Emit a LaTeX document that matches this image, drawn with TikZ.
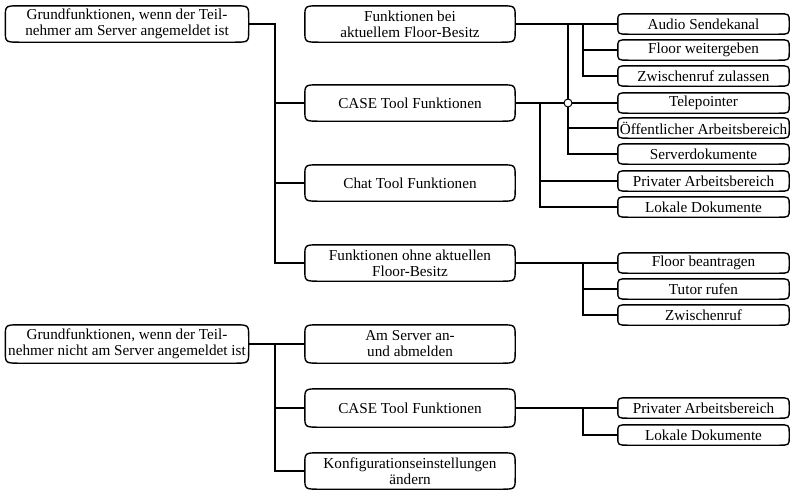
\documentclass[tikz,border=0pt]{standalone}
\usepackage{fontspec}
\setmainfont{Liberation Serif}
% outline with flattened round corners: #1 node, #2 corner width, #3 corner height
\newcommand\roundframe[3]{%
  \draw[frame] ([xshift=#2]#1.north west) -- ([xshift=-#2]#1.north east)
    .. controls (#1.north east) .. ([yshift=-#3]#1.north east)
    -- ([yshift=#3]#1.south east)
    .. controls (#1.south east) .. ([xshift=-#2]#1.south east)
    -- ([xshift=#2]#1.south west)
    .. controls (#1.south west) .. ([yshift=#3]#1.south west)
    -- ([yshift=-#3]#1.north west)
    .. controls (#1.north west) .. cycle;}
\begin{document}
\begin{tikzpicture}[x=1pt,y=-1pt,
  lbl/.style={inner sep=0pt, align=center, font=\fontsize{15.2}{16}\selectfont},
  rootbox/.style={lbl, minimum width=243pt, minimum height=36pt},
  midbox/.style={lbl, minimum width=210pt, minimum height=36pt},
  leafbox/.style={lbl, minimum width=171pt, minimum height=20pt},
  wire/.style={line width=1.2pt, line cap=rect},
  frame/.style={line width=1.4pt},
  hubdot/.style={circle, draw, line width=1pt, fill=white, inner sep=0pt, minimum size=8pt}]
\useasboundingbox (0,0) rectangle (792,490);

% ---------- first tree: logged in ----------
\node[rootbox] (r1) at (127,24) {Grundfunktionen, wenn der Teil-\\nehmer am Server angemeldet ist};
\node[midbox] (f1) at (410,24) {Funktionen bei\\aktuellem Floor-Besitz};
\node[midbox] (c1) at (410,103) {CASE Tool Funktionen};
\node[midbox] (ch) at (410,183) {Chat Tool Funktionen};
\node[midbox] (o1) at (410,263) {Funktionen ohne aktuellen\\Floor-Besitz};

\node[leafbox] (audio)  at (703.5,24)  {Audio Sendekanal};
\node[leafbox] (floorw) at (703.5,50)  {Floor weitergeben};
\node[leafbox] (zwz)    at (703.5,76)  {Zwischenruf zulassen};
\node[leafbox] (tele)   at (703.5,103) {Telepointer};
\node[leafbox] (oeff)   at (703.5,128) {Öffentlicher Arbeitsbereich};
\node[leafbox] (serv)   at (703.5,154) {Serverdokumente};
\node[leafbox] (priv)   at (703.5,181) {Privater Arbeitsbereich};
\node[leafbox] (lok)    at (703.5,207) {Lokale Dokumente};
\node[leafbox] (fb)     at (703.5,263) {Floor beantragen};
\node[leafbox] (tut)    at (703.5,289) {Tutor rufen};
\node[leafbox] (zw)     at (703.5,315) {Zwischenruf};

\coordinate (t1) at (275,24);
\coordinate (j1) at (583,24);
\coordinate (j2) at (568,24);
\coordinate (j3) at (540,103);
\coordinate (j4) at (583,263);

\draw[wire] (r1.east) -- (t1) |- (o1.west);
\draw[wire] (t1 |- c1.west) -- (c1.west);
\draw[wire] (t1 |- ch.west) -- (ch.west);
\draw[wire] (f1.east) -- (audio.west);
\draw[wire] (j1) |- (zwz.west);
\draw[wire] (j1 |- floorw.west) -- (floorw.west);
\draw[wire] (j2) |- (serv.west);
\draw[wire] (j2 |- oeff.west) -- (oeff.west);
\draw[wire] (c1.east) -- (tele.west);
\draw[wire] (j3) |- (lok.west);
\draw[wire] (j3 |- priv.west) -- (priv.west);
\node[hubdot] (hub) at (j2 |- tele.west) {};
\draw[wire] (o1.east) -- (fb.west);
\draw[wire] (j4) |- (zw.west);
\draw[wire] (j4 |- tut.west) -- (tut.west);

% ---------- second tree: not logged in ----------
\node[rootbox, minimum height=38pt, inner xsep=-4pt] (r2) at (127,344) {Grundfunktionen, wenn der Teil-\\nehmer nicht am Server angemeldet ist};
\node[midbox, minimum height=38pt] (a2) at (410,344) {Am Server an-\\und abmelden};
\node[midbox, minimum height=38pt] (c2) at (410,408) {CASE Tool Funktionen};
\node[midbox] (k2) at (410,471) {Konfigurationseinstellungen\\ändern};

\node[leafbox] (priv2) at (703.5,408) {Privater Arbeitsbereich};
\node[leafbox] (lok2)  at (703.5,435) {Lokale Dokumente};

\coordinate (t2) at (275,344);
\coordinate (j5) at (583,408);

\draw[wire] (r2.east) -- (t2) |- (k2.west);
\draw[wire] (t2 |- c2.west) -- (c2.west);
\draw[wire] (a2.west) -- (t2);
\draw[wire] (c2.east) -- (priv2.west);
\draw[wire] (j5) |- (lok2.west);

% ---------- box outlines ----------
\foreach \n in {r1,f1,c1,ch,o1,r2,a2,c2,k2}{\roundframe{\n}{15pt}{12pt}}
\foreach \n in {audio,floorw,zwz,tele,oeff,serv,priv,lok,fb,tut,zw,priv2,lok2}{\roundframe{\n}{11pt}{8pt}}
\end{tikzpicture}
\end{document}
